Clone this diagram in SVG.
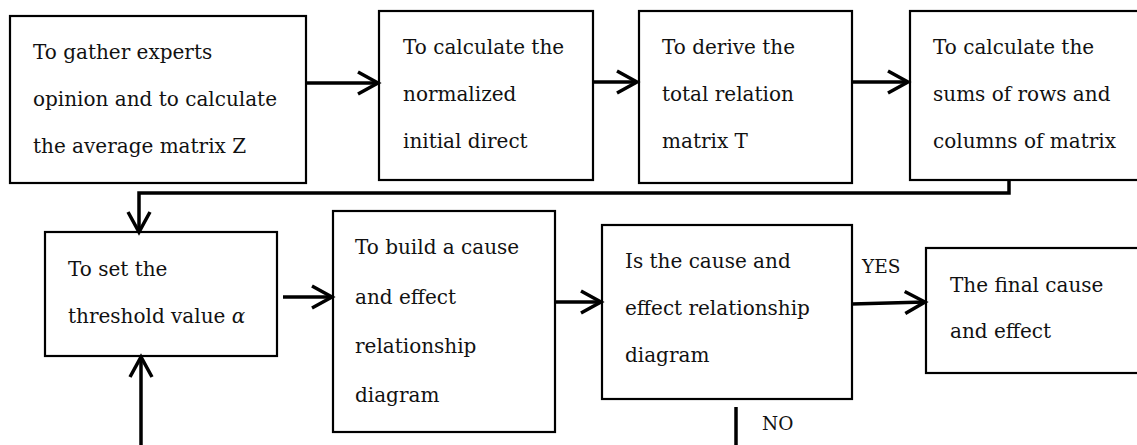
<svg xmlns="http://www.w3.org/2000/svg" width="1137" height="445" viewBox="0 0 1137 445">
<defs>
<style>
.box{fill:#fff;stroke:#000;stroke-width:2.2}
.t{font-family:"DejaVu Serif","Liberation Serif",serif;font-size:20px;fill:#111}
.lbl{font-family:"DejaVu Serif","Liberation Serif",serif;font-size:18.5px;fill:#111}
.c{fill:none;stroke:#000;stroke-width:3.5}
</style>
<marker id="ah" markerUnits="userSpaceOnUse" markerWidth="26" markerHeight="28" viewBox="0 0 26 28" refX="22" refY="14" orient="auto">
<path d="M2,3 L22,14 L2,25" fill="none" stroke="#000" stroke-width="3.5" stroke-linejoin="miter"/>
</marker>
</defs>
<rect width="1137" height="445" fill="#fff"/>
<g id="n1"><rect class="box" x="10" y="16" width="296" height="167"/>
<text class="t" x="33" y="59">To gather experts</text>
<text class="t" x="33" y="106">opinion and to calculate</text>
<text class="t" x="33" y="153">the average matrix Z</text></g>
<g id="n2"><rect class="box" x="379" y="11" width="214" height="169"/>
<text class="t" x="403" y="54">To calculate the</text>
<text class="t" x="403" y="101">normalized</text>
<text class="t" x="403" y="148">initial direct</text></g>
<g id="n3"><rect class="box" x="639" y="11" width="213" height="172"/>
<text class="t" x="662" y="54">To derive the</text>
<text class="t" x="662" y="101">total relation</text>
<text class="t" x="662" y="148">matrix T</text></g>
<g id="n4"><rect class="box" x="910" y="11" width="240" height="169"/>
<text class="t" x="933" y="54">To calculate the</text>
<text class="t" x="933" y="101">sums of rows and</text>
<text class="t" x="933" y="148">columns of matrix</text></g>
<g id="n5"><rect class="box" x="45" y="232" width="232" height="124"/>
<text class="t" x="68" y="276">To set the</text>
<text class="t" x="68" y="323">threshold value <tspan font-style="italic">α</tspan></text></g>
<g id="n6"><rect class="box" x="333" y="211" width="222" height="221"/>
<text class="t" x="355" y="254">To build a cause</text>
<text class="t" x="355" y="304">and effect</text>
<text class="t" x="355" y="353">relationship</text>
<text class="t" x="355" y="402">diagram</text></g>
<g id="n7"><rect class="box" x="602" y="225" width="250" height="174"/>
<text class="t" x="625" y="268">Is the cause and</text>
<text class="t" x="625" y="315">effect relationship</text>
<text class="t" x="625" y="362">diagram</text></g>
<g id="n8"><rect class="box" x="926" y="248" width="224" height="125"/>
<text class="t" x="950" y="292">The final cause</text>
<text class="t" x="950" y="338">and effect</text></g>
<g id="connectors">
<line class="c" x1="306" y1="83" x2="378" y2="83" marker-end="url(#ah)"/>
<line class="c" x1="593" y1="82" x2="637" y2="82" marker-end="url(#ah)"/>
<line class="c" x1="852" y1="82" x2="908" y2="82" marker-end="url(#ah)"/>
<path class="c" d="M1009,180 V193 H139 V232" marker-end="url(#ah)"/>
<line class="c" x1="141" y1="445" x2="141" y2="357" marker-end="url(#ah)"/>
<line class="c" x1="283" y1="297" x2="332" y2="297" marker-end="url(#ah)"/>
<line class="c" x1="555" y1="302" x2="601" y2="302" marker-end="url(#ah)"/>
<line class="c" x1="852" y1="304" x2="925" y2="302" marker-end="url(#ah)"/>
<line class="c" x1="736" y1="407" x2="736" y2="445"/>
<text class="lbl" x="862" y="273">YES</text>
<text class="lbl" x="762" y="430">NO</text>
</g>
</svg>
